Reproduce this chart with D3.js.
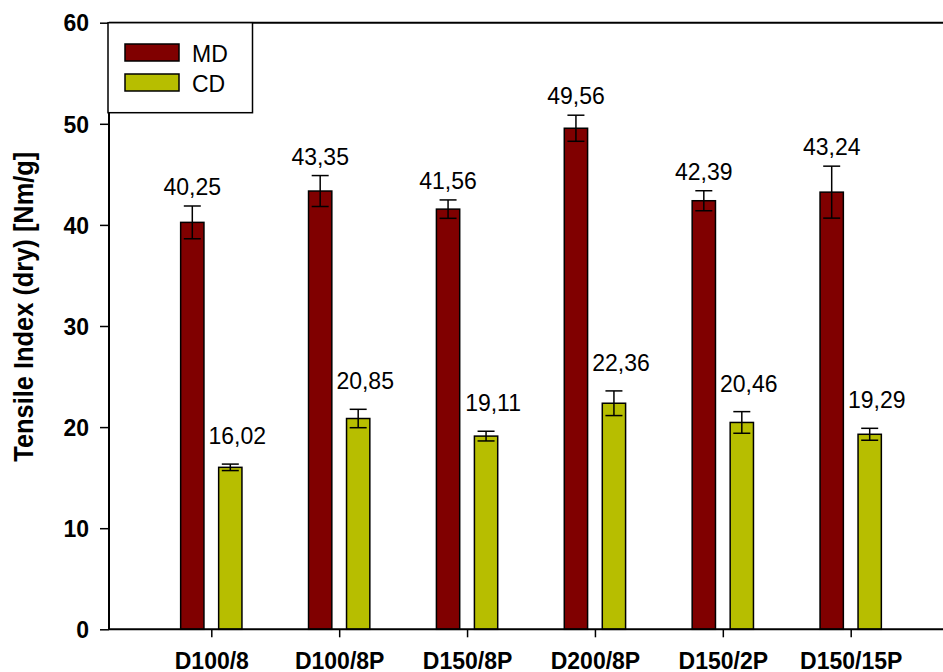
<!DOCTYPE html>
<html>
<head>
<meta charset="utf-8">
<script src="https://cdn.jsdelivr.net/npm/d3@7"></script>
<style>
html, body { margin: 0; padding: 0; background: #fff; }
svg { display: block; font-family: "Liberation Sans", Arial, sans-serif; }
</style>
</head>
<body>
<svg id="chart" width="943" height="672"></svg>
<script>
const categories = ["D100/8", "D100/8P", "D150/8P", "D200/8P", "D150/2P", "D150/15P"];
const seriesNames = ["MD", "CD"];
const mdValues = [40.25, 43.35, 41.56, 49.56, 42.39, 43.24];
const cdValues = [16.02, 20.85, 19.11, 22.36, 20.46, 19.29];
const mdErrors = [1.62, 1.53, 0.91, 1.29, 0.99, 2.57];
const cdErrors = [0.32, 0.91, 0.48, 1.22, 1.07, 0.59];
const yTicks = [0, 10, 20, 30, 40, 50, 60];
const colors = ["#800000", "#b7be00"];

(function () {
const svg = d3.select("#chart");
const mLeft = 109, mRight = 953, mTop = 22.7, mBottom = 629.3;

const x = d3.scalePoint().domain(categories).range([mLeft, mRight]).padding(0.8);
const y = d3.scaleLinear().domain([0, 60]).range([mBottom, mTop]);

const barW = 23.3, offset = 19;
const series = [
  { name: "MD", values: mdValues, errors: mdErrors, color: colors[0], dx: -offset, labelGap: 11, labelDx: 0 },
  { name: "CD", values: cdValues, errors: cdErrors, color: colors[1], dx: offset, labelGap: 20, labelDx: 7 }
];

series.forEach(s => {
  const g = svg.append("g");
  g.selectAll("rect").data(categories).join("rect")
    .attr("x", (c) => x(c) + s.dx - barW / 2)
    .attr("y", (c, i) => y(s.values[i]))
    .attr("width", barW)
    .attr("height", (c, i) => y(0) - y(s.values[i]))
    .attr("fill", s.color)
    .attr("stroke", "#000")
    .attr("stroke-width", 1.5);
  const capW = 17;
  categories.forEach((c, i) => {
    const cx = x(c) + s.dx;
    const y1 = y(s.values[i] + s.errors[i]);
    const y2 = y(s.values[i] - s.errors[i]);
    g.append("line").attr("x1", cx).attr("x2", cx).attr("y1", y1).attr("y2", y2)
      .attr("stroke", "#000").attr("stroke-width", 1.5);
    g.append("line").attr("x1", cx - capW / 2).attr("x2", cx + capW / 2).attr("y1", y1).attr("y2", y1)
      .attr("stroke", "#000").attr("stroke-width", 1.5);
    g.append("line").attr("x1", cx - capW / 2).attr("x2", cx + capW / 2).attr("y1", y2).attr("y2", y2)
      .attr("stroke", "#000").attr("stroke-width", 1.5);
    g.append("text")
      .attr("x", cx + s.labelDx)
      .attr("y", y1 - s.labelGap)
      .attr("text-anchor", "middle")
      .attr("font-size", 23)
      .attr("fill", "#000")
      .text(s.values[i].toFixed(2).replace(".", ","));
  });
});

const yAxis = d3.axisLeft(y).tickValues(yTicks).tickSize(9).tickPadding(11).tickFormat(d3.format("d"));
const gy = svg.append("g").attr("transform", `translate(${mLeft},0)`).call(yAxis);
gy.select(".domain").attr("stroke-width", 2).attr("d", `M0,${mTop}V${mBottom}`);
gy.selectAll(".tick line").attr("stroke-width", 1.5);
gy.selectAll(".tick text").attr("font-size", 23).attr("font-weight", "bold")
  .attr("font-family", "'Liberation Sans', Arial, sans-serif").attr("dy", "0.36em");

const xAxis = d3.axisBottom(x).tickSize(8).tickPadding(15);
const gx = svg.append("g").attr("transform", `translate(0,${mBottom})`).call(xAxis);
gx.select(".domain").attr("stroke-width", 2).attr("d", `M${mLeft},0H943`);
gx.selectAll(".tick line").attr("stroke-width", 1.5);
gx.selectAll(".tick text").attr("font-size", 23).attr("font-weight", "bold")
  .attr("font-family", "'Liberation Sans', Arial, sans-serif").attr("dy", "0.71em");

svg.append("line").attr("x1", mLeft).attr("x2", 943).attr("y1", mTop).attr("y2", mTop)
  .attr("stroke", "#000").attr("stroke-width", 2);

svg.append("text")
  .attr("transform", `translate(33,${(151.7 + 461.7) / 2}) rotate(-90)`)
  .attr("text-anchor", "middle")
  .attr("font-size", 27)
  .attr("font-weight", "bold")
  .attr("textLength", 310)
  .attr("lengthAdjust", "spacingAndGlyphs")
  .text("Tensile Index (dry) [Nm/g]");

const lg = svg.append("g");
lg.append("rect").attr("x", 108).attr("y", mTop).attr("width", 144.5).attr("height", 90)
  .attr("fill", "#fff").attr("stroke", "#000").attr("stroke-width", 1.5);
seriesNames.forEach((n, i) => {
  lg.append("rect").attr("x", 125).attr("y", 44 + i * 30).attr("width", 54).attr("height", 17)
    .attr("fill", colors[i]).attr("stroke", "#000").attr("stroke-width", 1.5);
  lg.append("text").attr("x", 192).attr("y", 61.7 + i * 30).attr("font-size", 23).text(n);
});
})();
</script>
</body>
</html>
